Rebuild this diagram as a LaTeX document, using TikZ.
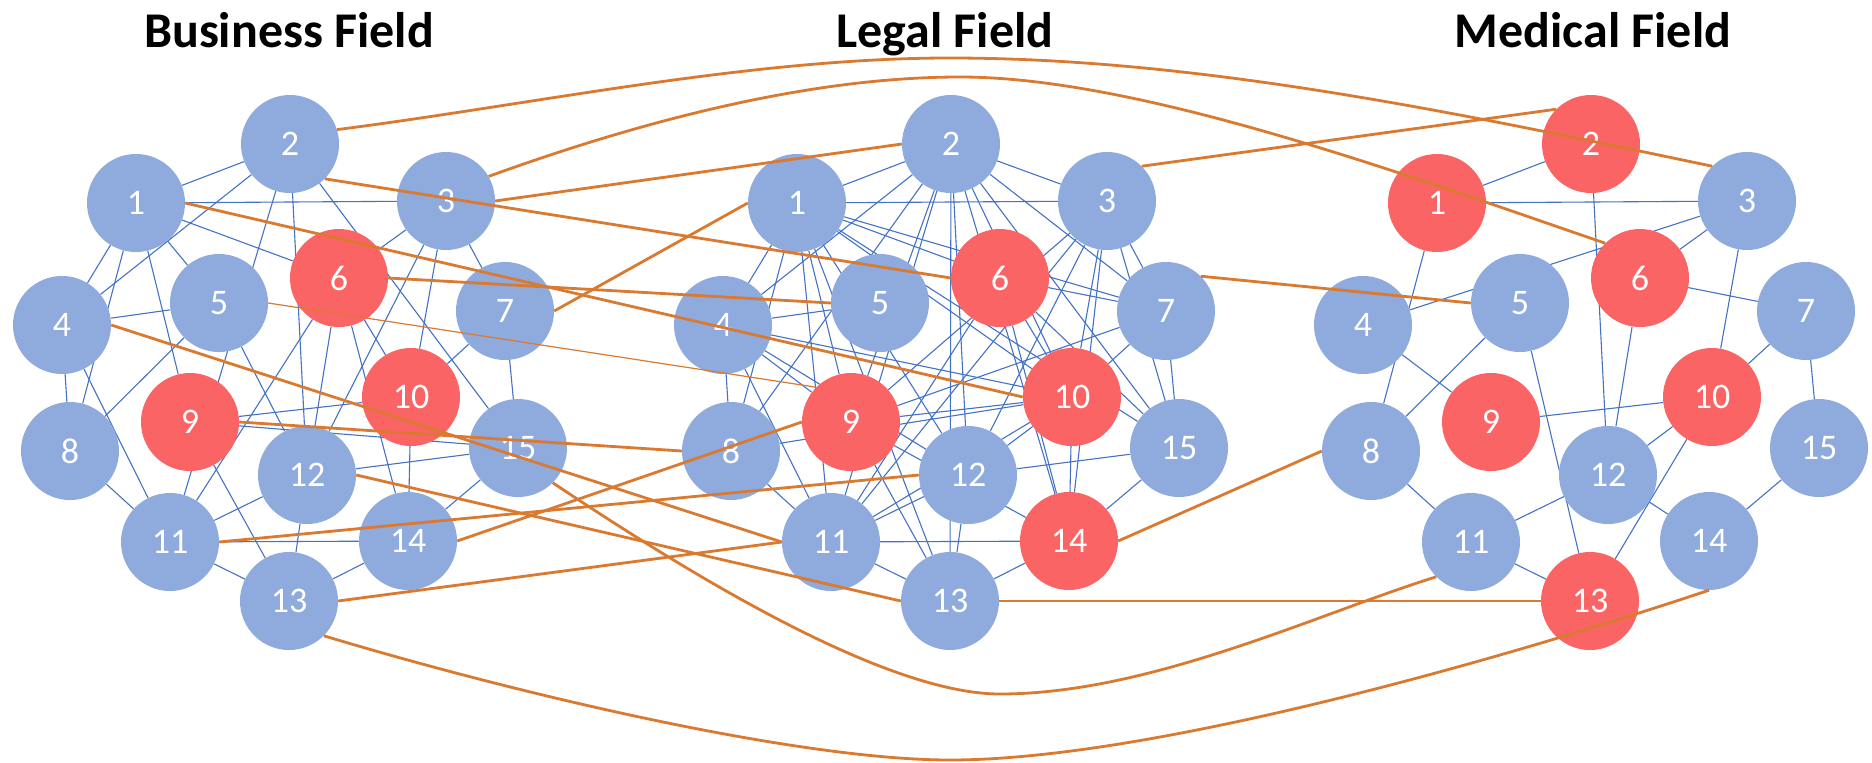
\documentclass[tikz,border=0pt]{standalone}
\usepackage{fontspec}
\setmainfont{Carlito}
\usetikzlibrary{backgrounds}
\definecolor{nodeblue}{RGB}{143,170,220}
\definecolor{nodered}{RGB}{250,100,100}
\definecolor{edgeblue}{RGB}{68,114,196}
\definecolor{linkorange}{RGB}{218,122,48}
\begin{document}
\begin{tikzpicture}[x=1pt,y=-1pt,
  bn/.style={circle,fill=nodeblue,minimum size=98pt,inner sep=0pt,text=white,font=\fontsize{36}{36}\selectfont},
  rn/.style={bn,fill=nodered},
  be/.style={draw=edgeblue,line width=1.1pt},
  oe/.style={draw=linkorange,line width=2.8pt},
  oethin/.style={draw=linkorange,line width=1.2pt},
  title/.style={font=\fontsize{50}{50}\selectfont\bfseries,text=black,anchor=base}]
\useasboundingbox (0,0) rectangle (1872,763);

% titles
\node[title] (tB) at (289,47) {Business Field};
\node[title] (tL) at (945,47) {Legal Field};
\node[title] (tM) at (1593,47) {Medical Field};

% Business cluster
\foreach \n/\x/\y/\s in {1/136/203/bn,2/290/144/bn,3/446/201/bn,4/62/325/bn,5/219/303/bn,
  6/339/278/rn,7/505/311/bn,8/70/451/bn,9/190/422/rn,10/411/397/rn,11/170/542/bn,
  12/307/475/bn,13/289/601/bn,14/408/541/bn,15/518/448/bn}
  \node[\s] (B\n) at (\x,\y) {\n};
% Legal cluster
\foreach \n/\x/\y/\s in {1/797/203/bn,2/951/144/bn,3/1107/201/bn,4/723/325/bn,5/880/303/bn,
  6/1000/278/rn,7/1166/311/bn,8/731/451/bn,9/851/422/rn,10/1072/397/rn,11/831/542/bn,
  12/968/475/bn,13/950/601/bn,14/1069/541/rn,15/1179/448/bn}
  \node[\s] (L\n) at (\x,\y) {\n};
% Medical cluster
\foreach \n/\x/\y/\s in {1/1437/203/rn,2/1591/144/rn,3/1747/201/bn,4/1363/325/bn,5/1520/303/bn,
  6/1640/278/rn,7/1806/311/bn,8/1371/451/bn,9/1491/422/rn,10/1712/397/rn,11/1471/542/bn,
  12/1608/475/bn,13/1590/601/rn,14/1709/541/bn,15/1819/448/bn}
  \node[\s] (M\n) at (\x,\y) {\n};

\begin{scope}[on background layer]
  \fill[white] (0,0) rectangle (1872,763);
  \foreach \a/\b in {1/2,1/3,1/4,1/5,1/6,1/8,1/9,2/4,2/11,2/12,2/15,3/6,3/7,3/10,3/12,
    4/5,4/8,4/11,5/8,5/12,6/10,6/11,6/12,6/14,7/10,7/15,8/11,9/10,9/13,9/15,10/14,
    11/12,11/13,11/14,12/13,12/15,13/14,14/15}
    \draw[be] (B\a) -- (B\b);
  \foreach \a/\b in {1/2,1/3,1/4,1/6,1/7,1/8,1/9,1/10,1/11,1/12,1/13,1/15,
    2/3,2/4,2/7,2/8,2/9,2/10,2/11,2/12,2/13,2/14,2/15,
    3/7,3/9,3/10,3/11,3/12,3/14,3/15,
    4/5,4/8,4/9,4/10,4/11,4/12,
    6/7,6/10,6/11,6/14,6/15,
    7/9,7/10,7/15,8/10,8/11,9/10,9/13,9/14,
    10/11,10/12,10/14,11/12,11/13,11/14,12/13,12/15,13/14,14/15}
    \draw[be] (L\a) -- (L\b);
  \foreach \a/\b in {1/2,1/3,1/8,2/12,3/4,3/6,3/10,4/9,5/8,5/13,6/7,6/12,7/10,7/15,
    9/10,10/12,10/13,8/11,11/12,11/13,12/14,14/15}
    \draw[be] (M\a) -- (M\b);
\end{scope}

% links between fields
\draw[oe] (B2.south east) -- (L6.west);
\draw[oe] (B3.east) -- (L2.west);
\draw[oe] (B1.east) -- (L10.west);
\draw[oe] (B4.east) -- (L11.west);
\draw[oethin] (B5.east) -- (L9.north west);
\draw[oe] (B6.east) -- (L5.west);
\draw[oe] (B7.east) -- (L1.west);
\draw[oe] (B9.east) -- (L8.west);
\draw[oe] (B11.east) -- (L12.west);
\draw[oe] (B12.east) -- (L13.west);
\draw[oe] (B13.east) -- (L11.west);
\draw[oe] (B14.east) -- (L9.west);
\draw[oe] (L3.north east) -- (M2.north west);
\draw[oe] (L7.north east) -- (M5.west);
\draw[oe] (L13.east) -- (M13.west);
\draw[oe] (L14.east) -- (M8.west);
\draw[oe] (B2.17) .. controls (537,104) and (750,58) .. (950,58)
  .. controls (1200,58) and (1463,114) .. (M3.north west);
\draw[oe] (B3.30) .. controls (658,115) and (820,77) .. (960,77)
  .. controls (1140,77) and (1406,175) .. (M6.north west);
\draw[oe] (B15.south east) .. controls (673,563) and (880,694) .. (1000,694)
  .. controls (1150,694) and (1317,614) .. (M11.south west);
\draw[oe] (B13.south east) .. controls (524,696) and (800,760) .. (950,760)
  .. controls (1150,760) and (1500,660) .. (M14.south);
\end{tikzpicture}
\end{document}
